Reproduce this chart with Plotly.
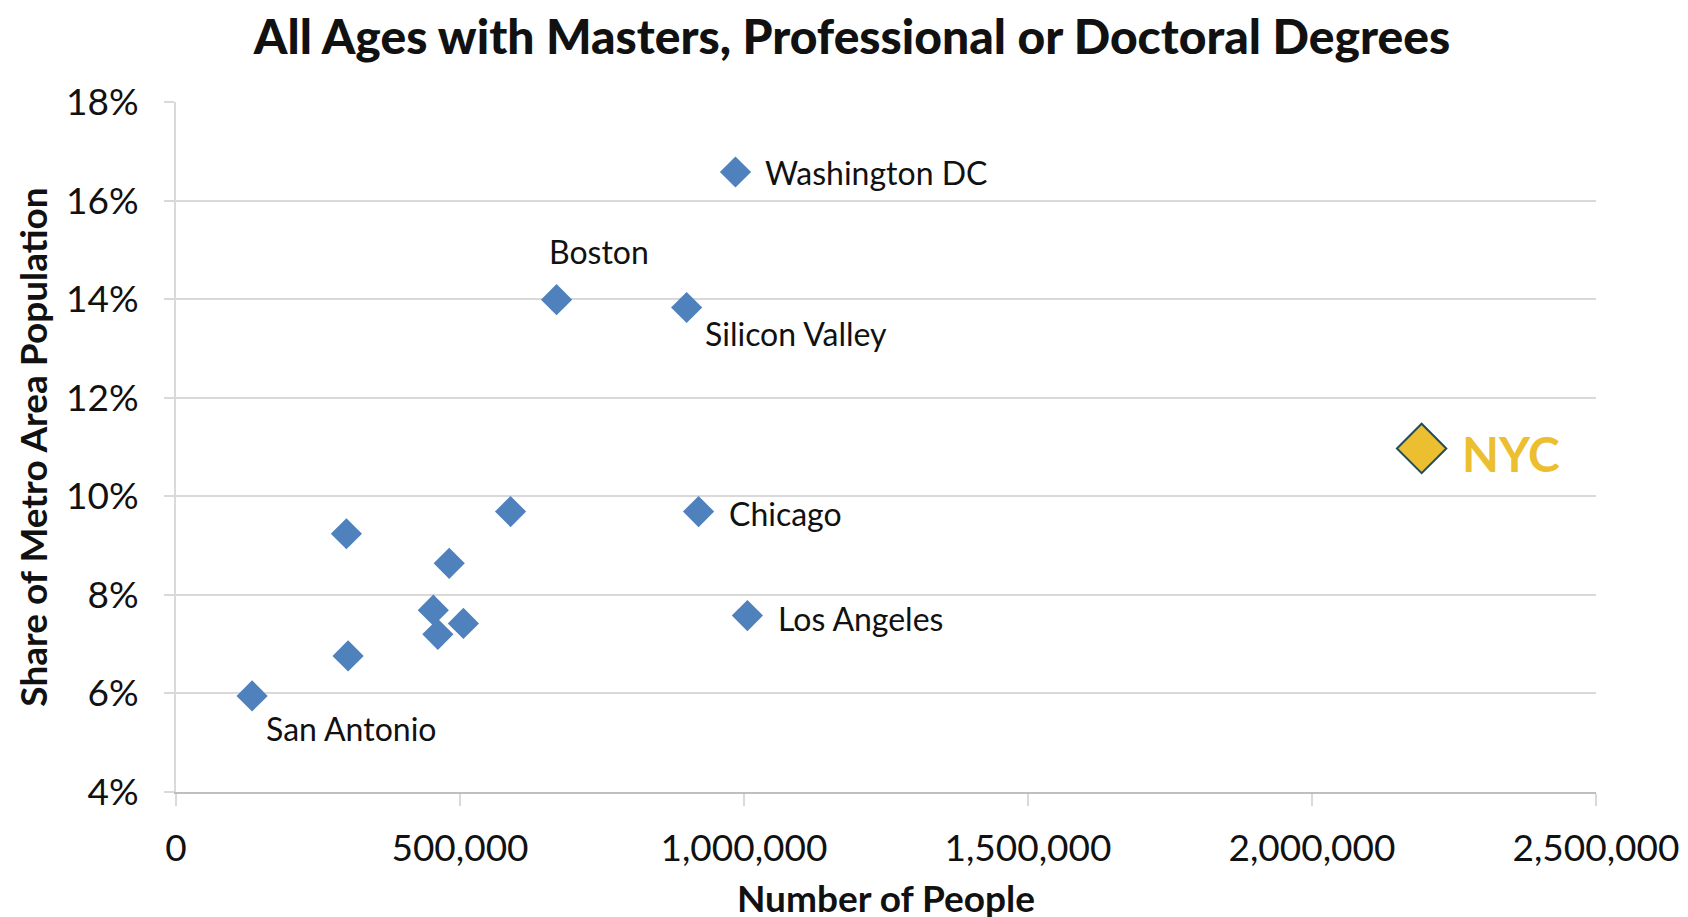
import plotly.graph_objects as go

# metro areas (unlabelled ones left blank)
metro = ["Washington DC", "Boston", "Silicon Valley", "Chicago", "", "", "", "",
         "", "", "Los Angeles", "", "San Antonio"]
people = [985000, 670000, 899000, 920000, 589000, 300000, 481000, 453000,
          506000, 461000, 1006000, 303000, 134000]
share = [0.1658, 0.1399, 0.1383, 0.0969, 0.0969, 0.0924, 0.0864, 0.0769,
         0.0742, 0.0720, 0.0758, 0.0676, 0.0595]

nyc_people = [2193000]
nyc_share = [0.1097]

# label placement relative to the marker: (xshift, yshift, xanchor)
label_pos = {
    "Washington DC": (28, -1, "left"),
    "Boston": (42, 48, "center"),
    "Silicon Valley": (16, -26, "left"),
    "Chicago": (28, -2, "left"),
    "Los Angeles": (29, -3, "left"),
    "San Antonio": (12, -33, "left"),
}

blue = "#4F81BD"
gold = "#EBBF2F"
grid = "#D9D9D9"
font = "Lato"

fig = go.Figure()
fig.add_trace(go.Scatter(
    x=people, y=share, mode="markers",
    marker=dict(symbol="diamond", size=24, color=blue),
    showlegend=False, hoverinfo="skip"
))
fig.add_trace(go.Scatter(
    x=nyc_people, y=nyc_share, mode="markers",
    marker=dict(symbol="diamond", size=38, color=gold,
                line=dict(color="#1B4E66", width=2)),
    showlegend=False, hoverinfo="skip"
))

for name, x, y in zip(metro, people, share):
    if not name:
        continue
    dx, dy, anchor = label_pos[name]
    fig.add_annotation(x=x, y=y, text=name, showarrow=False,
                       xanchor=anchor, yanchor="middle", xshift=dx, yshift=dy,
                       font=dict(family=font, size=32, color="#111111"))

fig.add_annotation(x=nyc_people[0], y=nyc_share[0], text="NYC",
                   showarrow=False, xanchor="left", yanchor="middle",
                   xshift=38, yshift=-5,
                   font=dict(family=font, size=48, color=gold, weight="bold"))

fig.update_layout(
    width=1688, height=917,
    paper_bgcolor="white", plot_bgcolor="white",
    margin=dict(l=168, r=100, t=94, b=121),
    font=dict(family=font, color="#111111"),
    title=dict(text="All Ages with Masters, Professional or Doctoral Degrees",
               x=0.5, xanchor="center", y=0.968, yanchor="middle",
               font=dict(family=font, size=48, color="#111111", weight=900)),
    xaxis=dict(
        range=[0, 2500000], dtick=500000, tickformat=",",
        showgrid=False, zeroline=False,
        showline=True, linecolor="#BFBFBF", linewidth=2,
        ticks="outside", ticklen=12, tickcolor=grid, tickwidth=2,
        ticklabelstandoff=11,
        tickfont=dict(family=font, size=37, color="#111111"),
        title=dict(text="Number of People", standoff=18,
                   font=dict(family=font, size=37, color="#111111", weight="bold")),
    ),
    yaxis=dict(
        range=[0.04, 0.18], dtick=0.02, tickformat=".0%",
        showgrid=True, gridcolor=grid, gridwidth=2, zeroline=False,
        showline=True, linecolor=grid, linewidth=2,
        ticks="outside", ticklen=10, tickcolor=grid, tickwidth=2,
        ticklabelstandoff=18,
        tickfont=dict(family=font, size=37, color="#111111"),
        title=dict(text="Share of Metro Area Population", standoff=7,
                   font=dict(family=font, size=37, color="#111111", weight="bold")),
    ),
)

fig.write_html("out.html")
